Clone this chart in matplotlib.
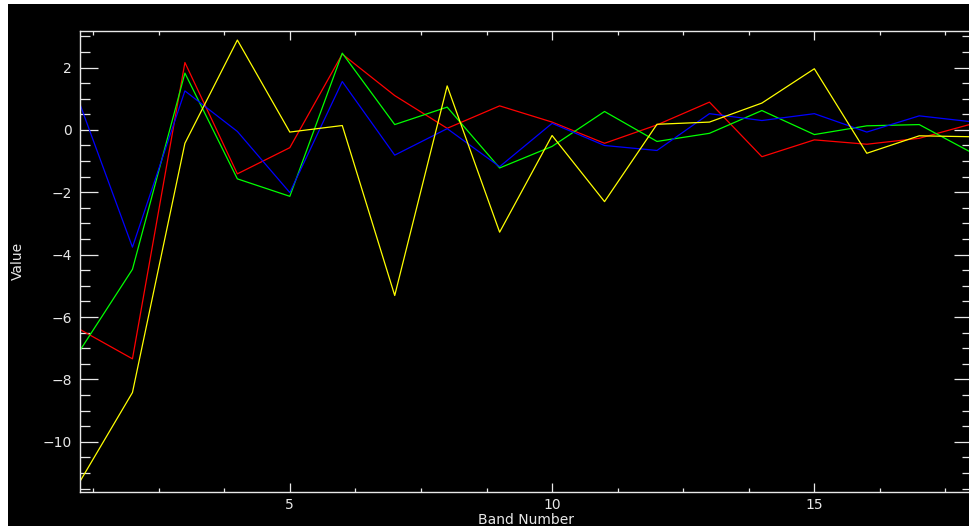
import matplotlib
matplotlib.use("Agg")
import matplotlib.pyplot as plt
from matplotlib.ticker import MultipleLocator
from matplotlib.patches import Rectangle

bands = list(range(1, 19))
red = [-6.4, -7.34, 2.16, -1.41, -0.57, 2.43, 1.1, 0.05, 0.77, 0.25, -0.43, 0.16, 0.89, -0.86, -0.32, -0.46, -0.27, 0.19]
green = [-7.07, -4.47, 1.82, -1.57, -2.13, 2.46, 0.17, 0.73, -1.22, -0.53, 0.59, -0.37, -0.11, 0.62, -0.15, 0.13, 0.17, -0.73]
blue = [0.82, -3.76, 1.25, -0.05, -2.01, 1.55, -0.81, 0.04, -1.18, 0.21, -0.5, -0.66, 0.52, 0.3, 0.52, -0.07, 0.45, 0.26]
yellow = [-11.27, -8.42, -0.43, 2.88, -0.07, 0.14, -5.31, 1.41, -3.28, -0.18, -2.3, 0.18, 0.25, 0.86, 1.96, -0.75, -0.19, -0.22]

W, H = 969, 527
fig = plt.figure(figsize=(W / 100, H / 100), dpi=100, facecolor="white")
bg = Rectangle((8 / W, 1 / H), 1 - 8 / W, 1 - 5 / H,
               transform=fig.transFigure, facecolor="black",
               edgecolor="none", zorder=-5)
fig.add_artist(bg)

left, right, top, bottom = 80, 971.7, 30.7, 492
ax = fig.add_axes([left / W, (H - bottom) / H, (right - left) / W, (bottom - top) / H])
ax.set_zorder(1)
ax.set_facecolor("black")

for vals, col in [(red, "#ff0000"), (green, "#00ff00"), (blue, "#0000ff"), (yellow, "#ffff00")]:
    ax.plot(bands, vals, color=col, linewidth=0.9)

ax.set_xlim(1, 18)
ax.set_ylim(-11.61, 3.18)
ax.xaxis.set_major_locator(MultipleLocator(5))
ax.xaxis.set_minor_locator(MultipleLocator(1.25))
ax.yaxis.set_major_locator(MultipleLocator(2))
ax.yaxis.set_minor_locator(MultipleLocator(0.5))

for s in ax.spines.values():
    s.set_color("#e8e8e8")
    s.set_linewidth(1.0)

ax.tick_params(axis="both", which="both", direction="in", colors="#e8e8e8",
               top=True, right=True, labelsize=10, width=0.9)
ax.tick_params(axis="x", which="major", length=6.2, pad=4)
ax.tick_params(axis="x", which="minor", length=2.9)
ax.tick_params(axis="y", which="major", length=13, pad=6)
ax.tick_params(axis="y", which="minor", length=7.2)
for lab in ax.get_xticklabels() + ax.get_yticklabels():
    lab.set_color("#e8e8e8")

fig.text((left + right) / 2 / W, 1 - 524 / H, "Band Number", color="#e8e8e8",
         ha="center", va="baseline", fontsize=10)
fig.text(18 / W, 1 - 261 / H, "Value", color="#e8e8e8", rotation=90,
         ha="center", va="center", fontsize=10)

fig.savefig("out.png", dpi=100, facecolor="white")
